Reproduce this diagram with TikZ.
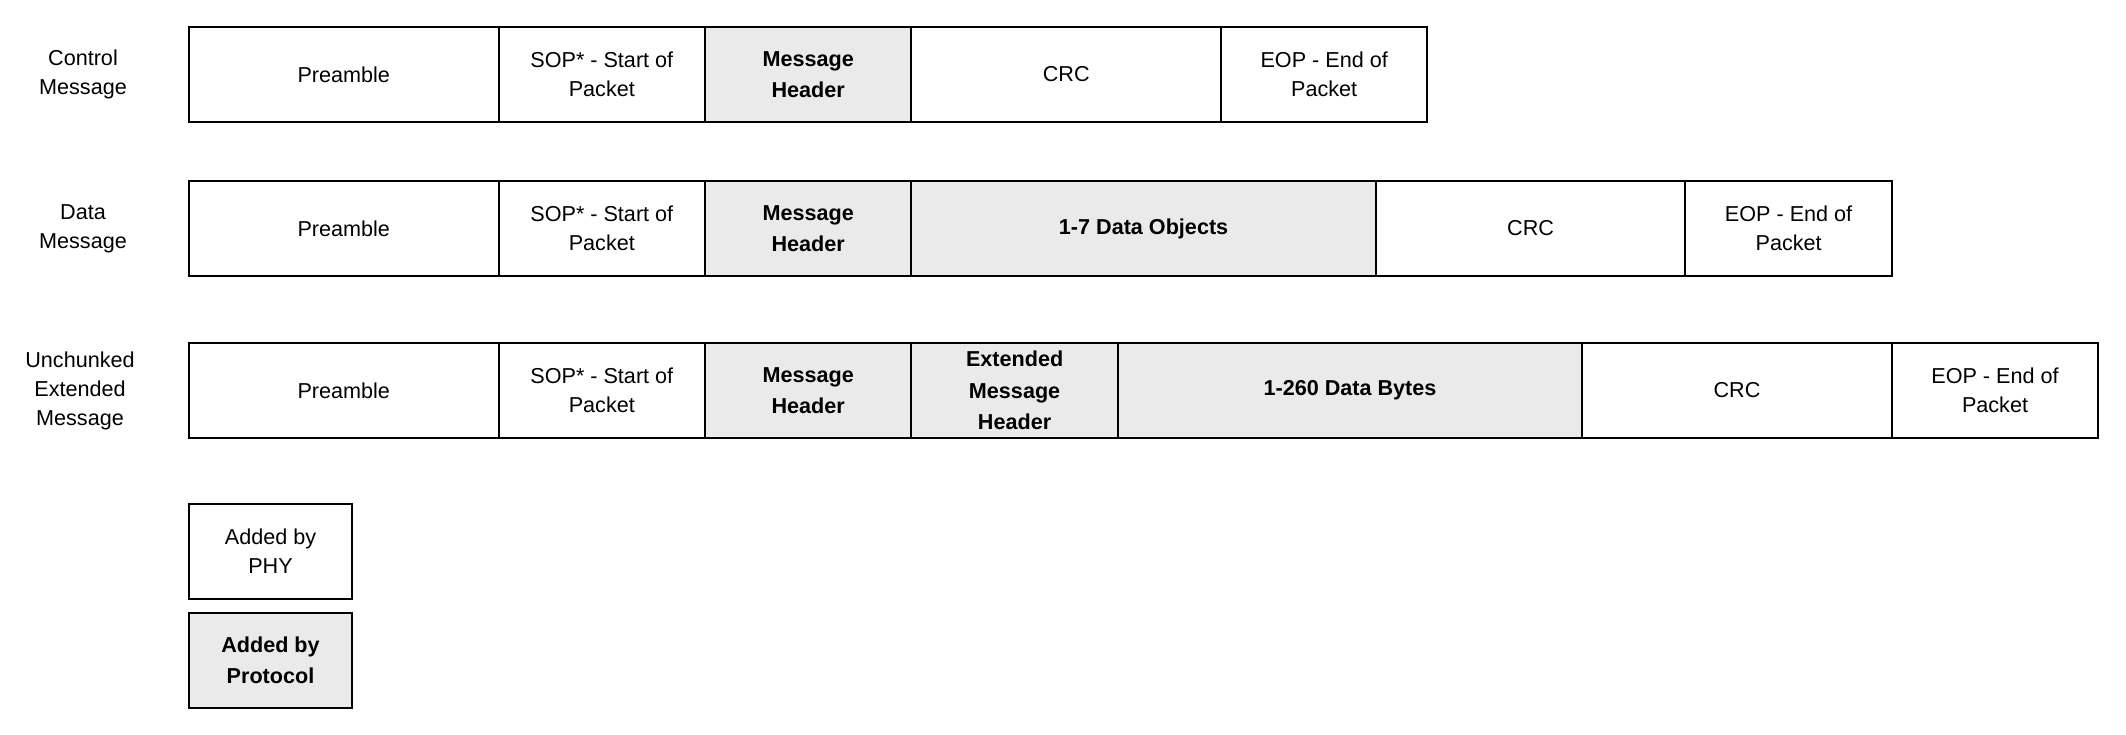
\documentclass[tikz,border=0pt]{standalone}
\usepackage{fontspec}
\setmainfont{Liberation Sans}
\usetikzlibrary{positioning,calc}

\definecolor{protogray}{HTML}{EAEAEA}
\newlength{\cellunit}
\setlength{\cellunit}{51.6pt}

\begin{document}
\begin{tikzpicture}

\tikzstyle{cell} = [rectangle, draw=black, line width=1pt, minimum height=47.5pt, inner sep=0pt, outer sep=0pt, align=center, font=\fontsize{10.8}{14.5}\selectfont]
\tikzstyle{proto} = [cell, fill=protogray, font=\fontsize{10.8}{15.7}\selectfont\bfseries]
\tikzstyle{rowlabel} = [align=center, font=\fontsize{10.8}{14.5}\selectfont]

\useasboundingbox (0,0) rectangle (1063pt,-367pt);

%% ---------------------
%% -- CONTROL MESSAGE --
%% ---------------------

\node (ctrl_pre) [cell, minimum width=3*\cellunit, anchor=north west] at (94.5pt,-13.5pt) {Preamble};
\node (ctrl_sop) [cell, minimum width=2*\cellunit, right=0pt of ctrl_pre] {SOP* - Start of\\Packet};
\node (ctrl_hdr) [proto, minimum width=2*\cellunit, right=0pt of ctrl_sop] {Message\\Header};
\node (ctrl_crc) [cell, minimum width=3*\cellunit, right=0pt of ctrl_hdr] {CRC};
\node (ctrl_eop) [cell, minimum width=2*\cellunit, right=0pt of ctrl_crc] {EOP - End of\\Packet};

\node (ctrl_lbl) [rowlabel] at ($(ctrl_pre.west)+(-53pt,0)$) {Control\\Message};

%% ------------------
%% -- DATA MESSAGE --
%% ------------------

\node (data_pre) [cell, minimum width=3*\cellunit, below=29.5pt of ctrl_pre] {Preamble};
\node (data_sop) [cell, minimum width=2*\cellunit, right=0pt of data_pre] {SOP* - Start of\\Packet};
\node (data_hdr) [proto, minimum width=2*\cellunit, right=0pt of data_sop] {Message\\Header};
\node (data_obj) [proto, minimum width=4.5*\cellunit, right=0pt of data_hdr] {1-7 Data Objects};
\node (data_crc) [cell, minimum width=3*\cellunit, right=0pt of data_obj] {CRC};
\node (data_eop) [cell, minimum width=2*\cellunit, right=0pt of data_crc] {EOP - End of\\Packet};

\node (data_lbl) [rowlabel] at ($(data_pre.west)+(-53pt,0)$) {Data\\Message};

%% ----------------------
%% -- EXTENDED MESSAGE --
%% ----------------------

\node (ext_pre) [cell, minimum width=3*\cellunit, below=33.5pt of data_pre] {Preamble};
\node (ext_sop) [cell, minimum width=2*\cellunit, right=0pt of ext_pre] {SOP* - Start of\\Packet};
\node (ext_hdr) [proto, minimum width=2*\cellunit, right=0pt of ext_sop] {Message\\Header};
\node (ext_xhdr) [proto, minimum width=2*\cellunit, right=0pt of ext_hdr] {Extended\\Message\\Header};
\node (ext_bytes) [proto, minimum width=4.5*\cellunit, right=0pt of ext_xhdr] {1-260 Data Bytes};
\node (ext_crc) [cell, minimum width=3*\cellunit, right=0pt of ext_bytes] {CRC};
\node (ext_eop) [cell, minimum width=2*\cellunit, right=0pt of ext_crc] {EOP - End of\\Packet};

\node (ext_lbl) [rowlabel] at ($(ext_pre.west)+(-54.5pt,0)$) {Unchunked\\Extended\\Message};

%% ------------
%% -- LEGEND --
%% ------------

\node (key_phy) [cell, minimum width=81.5pt, below=33pt of ext_pre.south west, anchor=north west] {Added by\\PHY};
\node (key_proto) [proto, minimum width=81.5pt, below=7pt of key_phy] {Added by\\Protocol};

\end{tikzpicture}
\end{document}
